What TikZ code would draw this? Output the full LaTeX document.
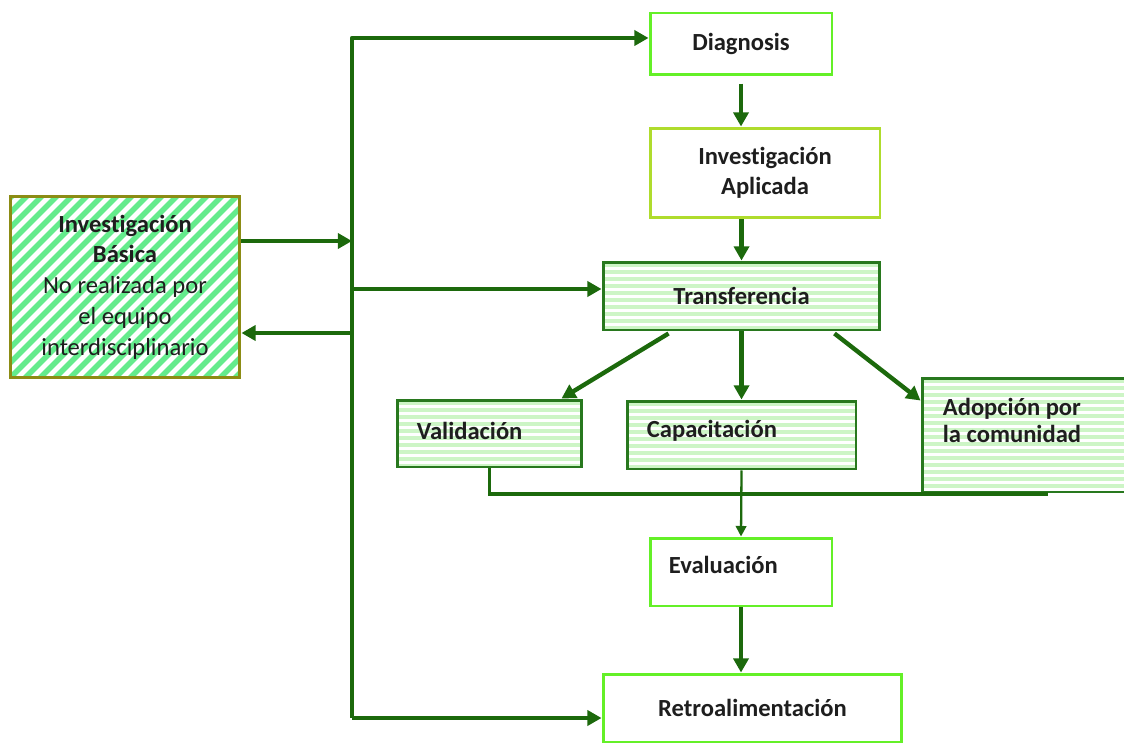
\documentclass[tikz,border=0pt]{standalone}
\usepackage{fontspec}
\setmainfont{Carlito}[Ligatures=NoCommon]
\usetikzlibrary{arrows.meta,calc}
\definecolor{dkgreen}{RGB}{28,105,12}
\definecolor{brgreen}{RGB}{100,240,40}
\definecolor{ylgreen}{RGB}{175,220,45}
\definecolor{trgreen}{RGB}{40,120,30}
\definecolor{olivebd}{RGB}{140,140,20}
\definecolor{dstripe}{RGB}{100,235,140}
\definecolor{lstripe}{RGB}{205,245,198}
\definecolor{txt}{RGB}{30,30,30}
\begin{document}
\begin{tikzpicture}[x=0.02cm,y=-0.02cm,
  font=\fontsize{14}{17.5}\selectfont, text=txt,
  box/.style={draw, rectangle, line width=1.7pt, inner sep=0pt, fill=white},
  hstripes/.style={path picture={
    \foreach \i in {0,...,40}{
      \fill[lstripe] ($(path picture bounding box.north west)+(0,\i*7+1)$) rectangle ++(500,3.5);
    }}},
  dstripes/.style={path picture={
    \foreach \i in {-25,...,20}{
      \draw[dstripe, line width=3.2pt] ($(path picture bounding box.south west)+(\i*15,0)$) -- ++(300,-300);
    }}},
  conn/.style={draw=dkgreen, line width=2.5pt, line join=round, -{Triangle[length=8pt,width=8.5pt]}, dkgreen},
  thinconn/.style={draw=dkgreen, line width=1.3pt, dkgreen},
]
\useasboundingbox (0,0) rectangle (1124,743);

% boxes
\node[box, draw=olivebd, dstripes, minimum width=4.6cm, minimum height=3.64cm, align=center] (basica) at (125,287)
  {\textbf{Investigación}\\\textbf{Básica}\\No realizada por\\el equipo\\interdisciplinario};
\node[box, draw=brgreen, minimum width=3.64cm, minimum height=1.24cm, font=\fontsize{14}{17.5}\selectfont\bfseries] (diag) at (741,44) {Diagnosis};
\node[box, draw=ylgreen, minimum width=4.6cm, minimum height=1.8cm, align=center, font=\fontsize{14}{17}\selectfont\bfseries] (aplic) at (765,173) {Investigación\\Aplicada};
\node[box, draw=trgreen, hstripes, minimum width=5.54cm, minimum height=1.36cm, font=\fontsize{14}{17.5}\selectfont\bfseries] (transf) at (741.5,296) {Transferencia};
\node[box, draw=trgreen, hstripes, minimum width=3.7cm, minimum height=1.34cm] (valid) at (489.5,433.5) {};
\node[box, draw=trgreen, hstripes, minimum width=4.58cm, minimum height=1.36cm] (capac) at (741.5,435) {};
\node[box, draw=trgreen, hstripes, minimum width=4.36cm, minimum height=2.28cm] (adop) at (1031,435) {};
\node[box, draw=brgreen, minimum width=3.64cm, minimum height=1.36cm] (eval) at (741,572) {};
\node[box, draw=brgreen, minimum width=5.98cm, minimum height=1.36cm, font=\fontsize{14}{17.5}\selectfont\bfseries] (retro) at (752.5,708) {Retroalimentación};

% left-aligned texts
\node[anchor=west, font=\fontsize{14}{17.5}\selectfont\bfseries, inner sep=0pt] (validt) at ($(valid.west)+(21,-3)$) {Validación};
\node[anchor=west, font=\fontsize{14}{17.5}\selectfont\bfseries, inner sep=0pt] (capact) at ($(capac.west)+(21,-4)$) {Capacitación};
\node[anchor=north west, align=left, font=\fontsize{14}{15.5}\selectfont\bfseries, inner sep=0pt] (adopt) at ($(adop.north west)+(22,21)$) {Adopción por\\la comunidad};
\node[anchor=west, font=\fontsize{14}{17.5}\selectfont\bfseries, inner sep=0pt] (evalt) at ($(eval.west)+(20,-7)$) {Evaluación};

% trunk coordinates
\coordinate (t1) at (352,38);
\coordinate (t2) at (352,241);
\coordinate (t3) at (352,289);
\coordinate (t4) at (352,333);
\coordinate (t5) at (352,718);
\coordinate (vb) at (1048,494);

% connectors
\draw[conn] (t5) -- (t1) -- (diag.west |- t1);
\draw[conn] (t5) -- (retro.west |- t5);
\draw[conn] (t3) -- (transf.west |- t3);
\draw[conn] (basica.east |- t2) -- (t2);
\draw[conn] (t4) -- (basica.east |- t4);
\draw[conn, shorten <=4pt] (diag.south) -- (diag.south |- aplic.north);
\draw[conn] (transf.north |- aplic.south) -- (transf.north);
\draw[conn] ($(transf.south west)+(67,2)$) -- ($(valid.north east)+(-22,0)$);
\draw[conn] (transf.south) -- (capac.north);
\draw[conn] ($(transf.south east)+(-47,2)$) -- ($(adop.north west)+(0,24)$);
\draw[thinconn, line width=2pt] (valid.south) |- (vb);
\draw[thinconn, -{Triangle[length=6pt,width=6pt]}] (capac.south) -- (eval.north);
\draw[conn] (eval.south) -- (eval.south |- retro.north);
\end{tikzpicture}
\end{document}
